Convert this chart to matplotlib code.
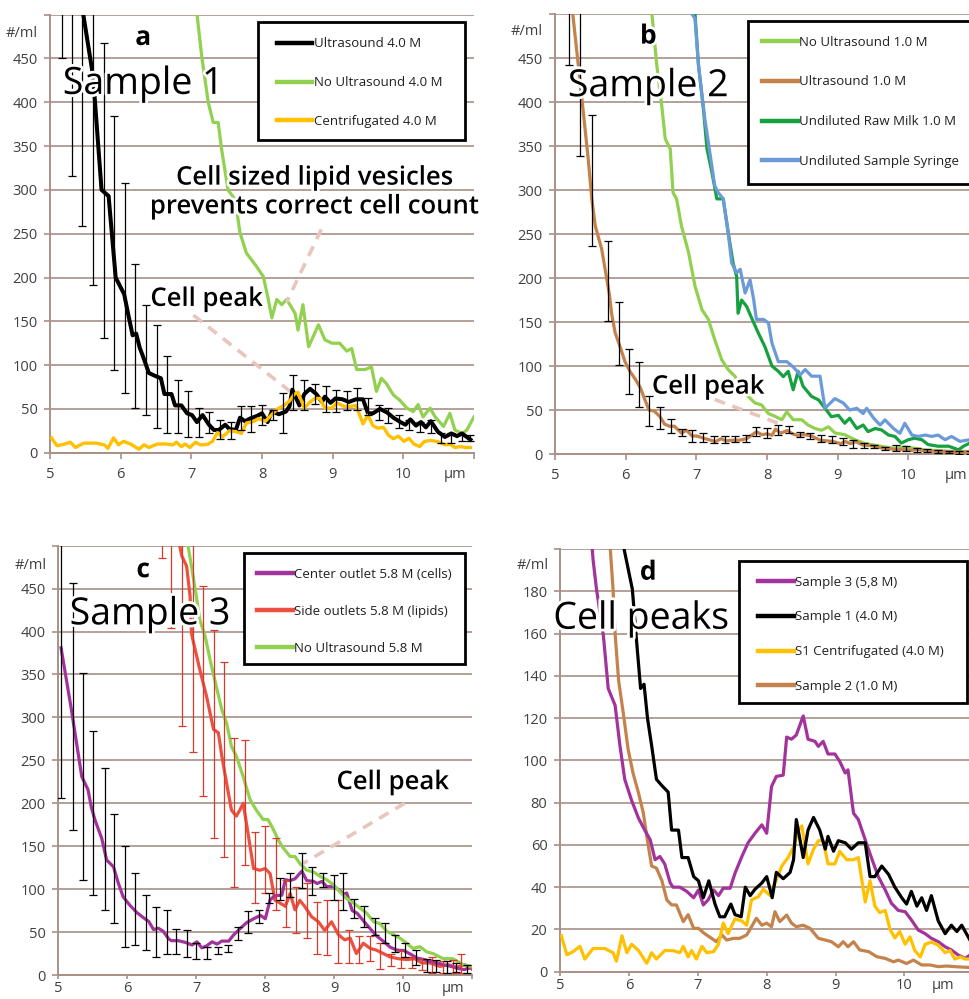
import matplotlib
matplotlib.use('Agg')
import matplotlib.pyplot as plt
import matplotlib.patheffects as pe
from matplotlib.patches import Rectangle
from matplotlib.lines import Line2D
import numpy as np

plt.rcParams['font.family'] = ['Open Sans', 'DejaVu Sans']

# ---------------- Sample 1 (4.0 M) ----------------
sample1_x = [5.40, 5.47, 5.61, 5.73, 5.83, 5.93, 6.05, 6.11, 6.17, 6.22,
             6.27, 6.33, 6.40, 6.48, 6.57, 6.62, 6.72, 6.77, 6.86, 6.94,
             7.01, 7.08, 7.16, 7.25, 7.32, 7.39, 7.48, 7.54, 7.63, 7.69,
             7.76, 7.83, 7.93, 8.00, 8.08, 8.14, 8.24, 8.34, 8.39, 8.43,
             8.53, 8.60, 8.68, 8.77, 8.85, 8.89, 8.97, 9.04, 9.14, 9.23,
             9.33, 9.43, 9.50, 9.57, 9.67, 9.77, 9.86, 9.96, 10.03, 10.10,
             10.18, 10.25, 10.32, 10.39, 10.49, 10.59, 10.68, 10.76, 10.83, 10.95]
sample1_y = [560, 501, 430, 300, 293, 200, 181, 157, 134, 136,
             120, 107, 91, 88, 85, 67, 67, 54, 54, 45,
             43, 35, 43, 32, 26, 26, 32, 27, 26, 40,
             36, 39, 42, 45, 35, 47, 44, 47, 53, 72,
             54, 67, 73, 67, 58, 64, 57, 62, 61, 58,
             61, 61, 45, 45, 50, 46, 40, 35, 32, 38,
             31, 35, 29, 36, 24, 18, 22, 19, 22, 15]

cent1_x = [5.02, 5.10, 5.19, 5.29, 5.36, 5.48, 5.65, 5.77, 5.82, 5.90,
           5.97, 6.04, 6.14, 6.26, 6.33, 6.40, 6.52, 6.64, 6.74, 6.79,
           6.86, 6.91, 6.98, 7.06, 7.13, 7.23, 7.30, 7.37, 7.44, 7.54,
           7.64, 7.71, 7.78, 7.88, 7.95, 8.05, 8.12, 8.22, 8.31, 8.39,
           8.46, 8.51, 8.60, 8.68, 8.75, 8.82, 8.89, 8.99, 9.06, 9.16,
           9.26, 9.33, 9.43, 9.50, 9.57, 9.64, 9.72, 9.79, 9.86, 9.93,
           10.01, 10.08, 10.15, 10.23, 10.30, 10.39, 10.49, 10.59, 10.66, 10.73,
           10.81, 10.88, 10.95]
cent1_y = [17, 8, 9.5, 12, 6, 11, 11, 9, 5, 17,
           9, 13, 10, 4, 9, 6, 10, 10, 9, 12,
           7, 10, 6, 12, 9, 9.5, 13, 23, 18, 25,
           24, 22, 34, 35.5, 39, 36, 42, 50, 54, 59,
           67, 69, 51, 58, 62, 62, 51, 51, 57, 53,
           53, 54, 33, 43, 31, 28, 29, 20, 16, 19,
           13, 16.5, 10, 7, 13, 14, 12.6, 9, 10, 6,
           7, 6, 6]

nous4_x = [7.00, 7.08, 7.15, 7.24, 7.31, 7.38, 7.43, 7.52, 7.62, 7.69,
           7.78, 7.92, 8.02, 8.09, 8.14, 8.21, 8.28, 8.35, 8.47, 8.51,
           8.58, 8.66, 8.80, 8.89, 8.99, 9.10, 9.20, 9.27, 9.34, 9.46,
           9.55, 9.62, 9.69, 9.76, 9.86, 9.95, 10.05, 10.14, 10.21, 10.28,
           10.38, 10.45, 10.57, 10.66, 10.73, 10.83, 10.90, 11.0]
nous4_y = [560, 501, 451, 400, 377, 377, 346, 300, 289, 251,
           228, 213, 201, 175, 154, 175, 169, 175, 159, 140,
           169, 121, 146, 129, 125, 125, 116, 119, 95, 95,
           98, 70, 85, 79, 66, 60, 51, 47, 55, 41,
           51, 41, 30, 45, 26, 22, 26, 41]

s1_err_x = [5.165, 5.31, 5.46, 5.61, 5.76, 5.91, 6.06, 6.21, 6.36, 6.51,
            6.66, 6.81, 6.96, 7.11, 7.25, 7.41, 7.56, 7.71, 7.85, 8.00,
            8.15, 8.30, 8.44, 8.59, 8.75, 8.90, 9.05, 9.20, 9.34, 9.50,
            9.65, 9.79, 9.94, 10.08, 10.24, 10.39, 10.53, 10.68, 10.83, 10.94]
s1_err_lo = [451, 316, 259, 192, 131, 95, 68, 51, 43, 28,
             22, 22, 18, 18, 22, 16, 16, 26, 24, 32,
             37, 22, 49, 49, 56, 47, 47, 49, 49, 43,
             37, 34, 28, 26, 24, 22, 11, 11, 13, 13]
s1_err_hi = [650, 650, 650, 650, 468, 384, 308, 215, 169, 146,
             110, 83, 70, 51, 46, 37, 35, 53, 53, 55,
             49, 68, 89, 83, 79, 76, 72, 70, 74, 62,
             55, 51, 43, 37, 35, 37, 22, 22, 20, 20]

# ---------------- Sample 2 (1.0 M) ----------------
nous1_x = [6.30, 6.37, 6.44, 6.51, 6.56, 6.63, 6.67, 6.72, 6.79, 6.89,
           6.98, 7.08, 7.17, 7.26, 7.36, 7.45, 7.55, 7.64, 7.74, 7.83,
           7.92, 8.02, 8.11, 8.21, 8.28, 8.37, 8.49, 8.58, 8.68, 8.77,
           8.87, 8.96, 9.10, 9.25, 9.39, 9.53, 9.67, 9.81, 9.95, 10.09,
           10.24, 10.42, 10.61, 10.85, 11.0]
nous1_y = [560, 501, 442, 396, 358, 347, 297, 290, 259, 229,
           191, 164, 153, 130, 107, 96, 88, 73, 65, 58,
           56, 46, 43, 39, 48, 39, 39, 33, 29, 27,
           31, 24, 22, 16, 12, 10, 8, 6.5, 8, 6.5,
           4.5, 4, 3, 3, 3]

sample2_x = [5.18, 5.25, 5.38, 5.47, 5.52, 5.57, 5.66, 5.73, 5.77, 5.80,
             5.85, 5.92, 5.99, 6.06, 6.14, 6.21, 6.26, 6.33, 6.40, 6.48,
             6.55, 6.62, 6.69, 6.74, 6.79, 6.86, 6.94, 7.01, 7.10, 7.20,
             7.27, 7.35, 7.42, 7.52, 7.61, 7.71, 7.78, 7.85, 7.93, 8.00,
             8.07, 8.12, 8.19, 8.29, 8.36, 8.43, 8.53, 8.63, 8.75, 8.85,
             8.94, 9.04, 9.11, 9.18, 9.26, 9.35, 9.48, 9.60, 9.72, 9.84,
             9.91, 10.03, 10.13, 10.25, 10.37, 10.49, 10.61, 10.73, 10.95]
sample2_y = [560, 501, 404, 335, 290, 259, 233, 200, 181, 160,
             138, 122, 105, 94, 84.5, 75, 64, 50, 49, 43,
             34, 31.6, 31.6, 27.6, 23.7, 27, 20.5, 20.5, 18, 15.8,
             14.2, 17.4, 15, 15.8, 15.8, 17.4, 21.3, 25.3, 22, 23,
             21.3, 28.4, 23.7, 26.8, 23, 21.3, 22, 20.5, 15.8, 15,
             14.2, 11.8, 14.2, 11.8, 14.2, 10.3, 9.5, 7.1, 6.3, 4.7,
             5.5, 3.9, 5.5, 3.2, 3.2, 2.4, 2.7, 2.4, 2]

milk_x = [6.95, 6.98, 7.03, 7.10, 7.15, 7.22, 7.29, 7.38, 7.45, 7.52,
          7.57, 7.59, 7.64, 7.71, 7.78, 7.88, 7.97, 8.07, 8.16, 8.23,
          8.30, 8.37, 8.44, 8.51, 8.63, 8.73, 8.84, 8.91, 9.01, 9.10,
          9.17, 9.27, 9.36, 9.43, 9.53, 9.62, 9.72, 9.81, 9.90, 10.00,
          10.09, 10.19, 10.28, 10.42, 10.57, 10.71, 10.78, 10.87, 11.0]
milk_y = [560, 501, 442, 392, 347, 320, 290, 290, 252, 217,
          202, 160, 175, 168, 155, 137, 122, 100, 94, 88,
          94, 73, 94, 77, 65.5, 61.5, 50, 42.5, 44, 35,
          40.7, 29, 33, 25.5, 29, 27.4, 21.6, 20, 12.5, 16.3,
          18, 16.3, 10.8, 8.9, 8.9, 4.8, 8.9, 12.5, 8]

syringe_x = [6.90, 6.93, 6.98, 7.03, 7.12, 7.19, 7.26, 7.31, 7.38, 7.45,
             7.50, 7.57, 7.62, 7.69, 7.76, 7.81, 7.85, 7.95, 8.02, 8.07,
             8.16, 8.28, 8.37, 8.47, 8.54, 8.63, 8.75, 8.82, 8.96, 9.08,
             9.17, 9.27, 9.36, 9.41, 9.51, 9.60, 9.67, 9.79, 9.88, 9.95,
             10.05, 10.14, 10.24, 10.33, 10.42, 10.52, 10.61, 10.73, 10.87, 11.0]
syringe_y = [560, 501, 495, 442, 381, 343, 305, 297, 290, 252,
             217, 206, 210, 183, 198, 176, 153, 153, 149, 126,
             105, 105, 99, 90, 96, 88.5, 88.5, 52, 63, 58,
             50, 52, 46, 52, 40.7, 33, 38.8, 29, 23.6, 35,
             21.6, 20, 21.6, 20, 21.6, 16.3, 20, 14.4, 16.3, 14]

s2_err_x = [5.20, 5.35, 5.52, 5.745, 5.90, 6.05, 6.19, 6.33, 6.49, 6.64,
            6.79, 6.94, 7.10, 7.25, 7.40, 7.55, 7.70, 7.85, 8.00, 8.16,
            8.31, 8.46, 8.61, 8.76, 8.92, 9.07, 9.22, 9.37, 9.52, 9.67,
            9.82, 9.97, 10.12, 10.27, 10.42, 10.57, 10.72, 10.87]
s2_err_lo = [442, 339, 236, 151, 101.5, 68, 54, 32, 29, 23.6,
             20, 14, 14, 12, 12, 14, 14, 20, 18, 22,
             24, 19, 17, 14, 12, 10, 6.5, 6.5, 6.5, 5,
             4, 3, 2, 2, 1, 1, 0.5, 0.5]
s2_err_hi = [650, 650, 385, 242, 172.5, 119, 105, 66.5, 54, 39.5,
             29, 27, 24, 20, 20, 20, 22, 31, 30, 33,
             32, 25.5, 24, 22, 20, 18, 16, 12, 10, 8,
             10, 9, 7, 6, 5, 4, 3.5, 3]

# ---------------- Sample 3 (5.8 M) ----------------
sample3_x = [5.04, 5.19, 5.34, 5.43, 5.48, 5.53, 5.63, 5.70, 5.80, 5.87,
             5.94, 6.04, 6.14, 6.23, 6.31, 6.38, 6.45, 6.52, 6.60, 6.64,
             6.74, 6.84, 6.94, 7.01, 7.08, 7.15, 7.23, 7.30, 7.37, 7.47,
             7.54, 7.64, 7.73, 7.83, 7.93, 8.00, 8.07, 8.14, 8.24, 8.29,
             8.36, 8.43, 8.53, 8.60, 8.70, 8.75, 8.82, 8.89, 8.99, 9.06,
             9.14, 9.18, 9.26, 9.33, 9.43, 9.53, 9.62, 9.72, 9.81, 9.91,
             10.01, 10.10, 10.20, 10.30, 10.39, 10.49, 10.59, 10.68, 10.78, 10.88,
             10.95]
sample3_y = [381, 309, 231, 216, 195, 181, 159, 134, 126, 107,
             91, 81, 72.6, 67, 62.4, 53, 54.5, 51, 42, 40,
             40, 38, 35, 38.7, 31.6, 34, 38.7, 36, 39.5, 39.5,
             46.6, 54.5, 61, 65.5, 69.5, 65.5, 87.6, 92.4, 93, 111,
             110, 112, 121, 110, 109, 106.6, 109, 103, 103, 99.5,
             94, 95.5, 75, 72, 62.4, 53, 45, 38.7, 32.4, 29,
             28.4, 24.5, 19.7, 18, 15.8, 14.2, 11.8, 10.3, 7.9, 6.3,
             7.9]

side_x = [6.70, 6.76, 6.79, 6.86, 6.91, 6.93, 6.96, 7.05, 7.15, 7.25,
          7.32, 7.37, 7.44, 7.51, 7.58, 7.63, 7.68, 7.75, 7.83, 7.92,
          8.00, 8.07, 8.14, 8.21, 8.29, 8.36, 8.43, 8.50, 8.57, 8.67,
          8.77, 8.86, 8.96, 9.06, 9.15, 9.23, 9.32, 9.42, 9.52, 9.61,
          9.71, 9.81, 9.93, 10.05, 10.17, 10.27, 10.39, 10.53, 10.65, 10.77,
          10.89, 10.99]
side_y = [560, 500, 488, 476, 441, 398, 387, 356, 324, 286,
          282, 255, 223, 192, 185, 192, 200, 165, 124, 122,
          124, 118, 87, 84, 80, 95, 76, 87, 80, 68,
          62, 52, 62, 47, 41, 43, 25, 37, 31, 29,
          25, 21, 19, 18, 19, 14, 14, 10, 12, 9,
          12, 7]

nous58_x = [6.82, 6.88, 6.93, 7.00, 7.05, 7.13, 7.20, 7.29, 7.37, 7.44,
            7.51, 7.58, 7.68, 7.78, 7.87, 7.97, 8.04, 8.12, 8.19, 8.26,
            8.36, 8.43, 8.50, 8.60, 8.70, 8.79, 8.89, 8.99, 9.08, 9.18,
            9.28, 9.37, 9.47, 9.57, 9.66, 9.76, 9.86, 9.95, 10.05, 10.14,
            10.24, 10.34, 10.43, 10.58, 10.72, 10.87, 10.99]
nous58_y = [560, 500, 476, 441, 414, 394, 367, 336, 309, 293,
            266, 255, 231, 204, 192, 181, 181, 169, 157, 148,
            138, 138, 130, 122, 120, 115, 111, 105, 97, 89,
            84, 78, 72, 62, 60, 51, 47, 43, 37, 31,
            33, 27, 25, 19, 19, 12, 10]

s3_err_x = [5.04, 5.21, 5.36, 5.51, 5.67, 5.81, 5.97, 6.11, 6.27, 6.42,
            6.57, 6.71, 6.86, 7.00, 7.16, 7.32, 7.46, 7.61, 7.75, 7.91,
            8.06, 8.22, 8.36, 8.53, 8.67, 8.83, 8.99, 9.13, 9.29, 9.43,
            9.59, 9.73, 9.88, 10.02, 10.18, 10.34, 10.48, 10.63, 10.77, 10.92]
s3_err_lo = [206, 169, 111, 93, 76, 60, 33, 35, 29, 21,
             25, 25, 21, 19, 19, 25, 27, 41, 49, 60,
             84, 87, 91, 101, 93, 103, 87, 76, 66, 56,
             47, 37, 27, 21, 12, 4, 4, 2, 4, 2]
s3_err_hi = [650, 457, 352, 284, 241, 187, 150, 119, 93, 79,
             76, 54, 52, 37, 33, 33, 35, 56, 74, 76,
             95, 113, 119, 142, 126, 119, 117, 119, 89, 80,
             66, 60, 47, 37, 29, 19, 17, 16, 14, 12]

side_err_x = [6.50, 6.64, 6.79, 6.95, 7.10, 7.25, 7.40, 7.55, 7.71, 7.85,
              8.00, 8.15, 8.30, 8.45, 8.60, 8.75, 8.90, 9.06, 9.21, 9.36,
              9.52, 9.66, 9.82, 9.97, 10.12, 10.27, 10.42, 10.57, 10.72, 10.84]
side_err_lo = [486, 404, 290, 260, 208, 159, 138, 103, 128, 84,
               95, 76, 56, 49, 43, 25, 23, 14, 14, 14,
               16, 7, 10, 8, 8, 6, 2, 2, 2, 2]
side_err_hi = [650, 650, 650, 650, 453, 402, 364, 276, 274, 167,
               173, 159, 111, 103, 107, 85, 87, 87, 52, 45,
               45, 37, 25, 29, 21, 19, 21, 16, 17, 25]

# colours
BLACK = '#000000'
LGREEN = '#92d050'
YELLOW = '#ffc000'
BROWN = '#c4824c'
DGREEN = '#16a040'
BLUE = '#6a9bd8'
PURPLE = '#a2339c'
RED = '#ec5040'
RED_ERR = '#d83a2a'
GRID = '#a89086'
DASH = '#e8c6be'
TICKC = '#404040'

halo = [pe.withStroke(linewidth=4, foreground='white')]

fig = plt.figure(figsize=(9.70, 9.99), dpi=100)

ax_a = fig.add_axes([0.0515, 0.5468, 0.4371, 0.4385])
ax_b = fig.add_axes([0.5722, 0.5455, 0.4371, 0.4404])
ax_c = fig.add_axes([0.0601, 0.0240, 0.4268, 0.4298])
ax_d = fig.add_axes([0.5773, 0.0273, 0.4262, 0.4232])


def style(ax, ymax, ystep, ml_y, um_x, xpad=6, xlen=4):
    ax.set_xlim(5, 11)
    ax.set_ylim(0, ymax)
    yt = np.arange(0, ymax + 1, ystep)
    ax.set_yticks(yt)
    ax.set_yticklabels([str(int(v)) for v in yt[:-1]] + [''])
    ax.set_xticks(range(5, 12))
    ax.set_xticklabels(['5', '6', '7', '8', '9', '10', ''])
    ax.grid(axis='y', color=GRID, lw=1.2)
    ax.set_axisbelow(True)
    for s in ['top', 'right']:
        ax.spines[s].set_visible(False)
    for s in ['left', 'bottom']:
        ax.spines[s].set_color(GRID)
        ax.spines[s].set_linewidth(1.4)
    ax.tick_params(colors=GRID, labelcolor=TICKC, labelsize=10.5, length=4, width=1.2)
    ax.tick_params(axis='x', pad=xpad, length=xlen)
    ax.tick_params(axis='y', pad=5)
    ax.text(-0.028, ml_y, '#/ml', transform=ax.get_yaxis_transform(),
            ha='right', va='center', fontsize=10.5, color=TICKC)
    ax.annotate('µm', xy=(um_x, 0), xycoords=ax.get_xaxis_transform(),
                xytext=(0, -(xpad + xlen)), textcoords='offset points',
                ha='center', va='top', fontsize=10.5, color=TICKC)


def err(ax, x, lo, hi, color):
    x = np.array(x)
    lo = np.array(lo, dtype=float)
    hi = np.array(hi, dtype=float)
    mid = (lo + hi) / 2
    ax.errorbar(x, mid, yerr=[mid - lo, hi - mid], fmt='none', ecolor=color,
                elinewidth=0.9, capsize=3, capthick=0.9, zorder=4)


def legend_box(ax, rect, anchor, labels, colors, spacing):
    x0, y0, x1, y1 = rect
    ax.add_patch(Rectangle((x0, y0), x1 - x0, y1 - y0, transform=ax.transAxes,
                           facecolor='white', edgecolor='black', lw=2.0,
                           zorder=6, clip_on=False))
    handles = [Line2D([0], [0], color=c, lw=3.2) for c in colors]
    leg = ax.legend(handles, labels, loc='upper left', bbox_to_anchor=anchor,
                    frameon=False, borderaxespad=0, borderpad=0, fontsize=9.5,
                    handlelength=2.7, handletextpad=0.1, labelspacing=spacing)
    leg.set_zorder(7)
    for t in leg.get_texts():
        t.set_color('#202020')


def label(ax, x, y, s, size, weight='normal'):
    ax.text(x, y, s, fontsize=size, fontweight=weight, ha='center', va='center',
            path_effects=halo, zorder=8, clip_on=False)


# ---- panel a ----
style(ax_a, 500, 50, 478, 10.73)
ax_a.plot(nous4_x, nous4_y, color=LGREEN, lw=2.3, zorder=2)
ax_a.plot(sample1_x, sample1_y, color=BLACK, lw=2.9, zorder=3)
ax_a.plot(cent1_x, cent1_y, color=YELLOW, lw=2.4, zorder=3)
err(ax_a, s1_err_x, s1_err_lo, s1_err_hi, BLACK)
ax_a.plot([7.03, 8.40], [157, 70], color=DASH, lw=2.6, ls=(0, (3, 2.2)), zorder=2.5)
ax_a.plot([8.84, 8.35], [255, 172], color=DASH, lw=2.6, ls=(0, (3, 2.2)), zorder=2.5)
label(ax_a, 6.32, 474, 'a', 19, 'bold')
label(ax_a, 6.32, 421, 'Sample 1', 27)
label(ax_a, 8.75, 297, 'Cell sized lipid vesicles\nprevents correct cell count', 18.5, 'semibold')
label(ax_a, 7.22, 175, 'Cell peak', 18.5, 'semibold')
legend_box(ax_a, (0.4906, 0.714, 0.979, 0.983), (0.535, 0.948),
           ['Ultrasound 4.0 M', 'No Ultrasound 4.0 M', 'Centrifugated 4.0 M'],
           [BLACK, LGREEN, YELLOW], 1.95)

# ---- panel b ----
style(ax_b, 500, 50, 480, 10.68)
ax_b.plot(nous1_x, nous1_y, color=LGREEN, lw=2.3, zorder=2)
ax_b.plot(milk_x, milk_y, color=DGREEN, lw=2.3, zorder=2)
ax_b.plot(syringe_x, syringe_y, color=BLUE, lw=2.3, zorder=2)
ax_b.plot(sample2_x, sample2_y, color=BROWN, lw=2.3, zorder=3)
err(ax_b, s2_err_x, s2_err_lo, s2_err_hi, BLACK)
ax_b.plot([7.26, 8.16], [62, 35], color=DASH, lw=2.6, ls=(0, (3, 2.2)), zorder=2.5)
label(ax_b, 6.32, 475, 'b', 19, 'bold')
label(ax_b, 6.32, 418, 'Sample 2', 27)
label(ax_b, 7.17, 76, 'Cell peak', 18.5, 'semibold')
legend_box(ax_b, (0.455, 0.614, 1.1, 0.984), (0.488, 0.951),
           ['No Ultrasound 1.0 M', 'Ultrasound 1.0 M', 'Undiluted Raw Milk 1.0 M',
            'Undiluted Sample Syringe'],
           [LGREEN, BROWN, DGREEN, BLUE], 2.03)

# ---- panel c ----
style(ax_c, 500, 50, 477, 10.72, xpad=1.5, xlen=3)
ax_c.plot(side_x, side_y, color=RED, lw=2.3, zorder=2)
ax_c.plot(sample3_x, sample3_y, color=PURPLE, lw=2.3, zorder=3)
ax_c.plot(nous58_x, nous58_y, color=LGREEN, lw=2.3, zorder=3)
err(ax_c, side_err_x, side_err_lo, side_err_hi, RED_ERR)
err(ax_c, s3_err_x, s3_err_lo, s3_err_hi, BLACK)
ax_c.plot([10.02, 8.55], [200, 130], color=DASH, lw=2.6, ls=(0, (3, 2.2)), zorder=2.5)
label(ax_c, 6.23, 472, 'c', 19, 'bold')
label(ax_c, 6.33, 420, 'Sample 3', 27)
label(ax_c, 9.85, 224, 'Cell peak', 18.5, 'semibold')
legend_box(ax_c, (0.4486, 0.7244, 0.982, 0.983), (0.48, 0.949),
           ['Center outlet 5.8 M (cells)', 'Side outlets 5.8 M (lipids)',
            'No Ultrasound 5.8 M'],
           [PURPLE, RED, LGREEN], 1.84)

# ---- panel d ----
style(ax_d, 200, 20, 192, 10.56, xpad=1.5, xlen=3)
ax_d.plot(sample2_x, sample2_y, color=BROWN, lw=2.3, zorder=2)
ax_d.plot(sample3_x, sample3_y, color=PURPLE, lw=2.3, zorder=2)
ax_d.plot(cent1_x, cent1_y, color=YELLOW, lw=2.3, zorder=3)
ax_d.plot(sample1_x, sample1_y, color=BLACK, lw=2.3, zorder=3)
label(ax_d, 6.28, 189, 'd', 19, 'bold')
label(ax_d, 6.18, 167, 'Cell peaks', 27)
legend_box(ax_d, (0.433, 0.6357, 0.9845, 0.9716), (0.479, 0.937),
           ['Sample 3 (5,8 M)', 'Sample 1 (4.0 M)', 'S1 Centrifugated (4.0 M)',
            'Sample 2 (1.0 M)'],
           [PURPLE, BLACK, YELLOW, BROWN], 1.65)

fig.savefig('out.png', dpi=100)
